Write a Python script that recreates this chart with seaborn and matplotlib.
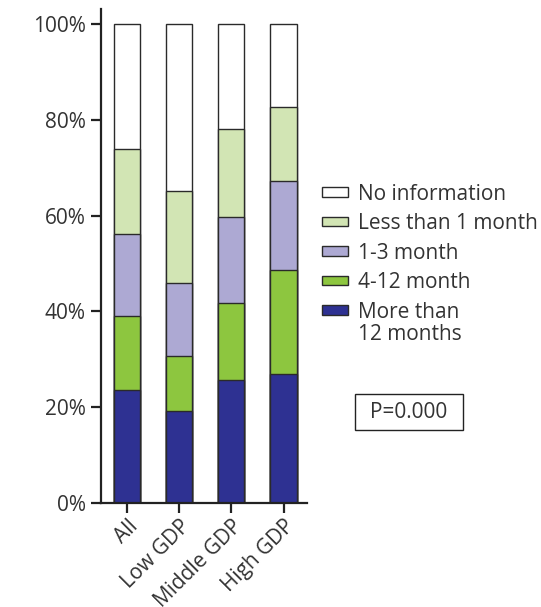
import matplotlib
matplotlib.use("Agg")
import matplotlib.pyplot as plt
import seaborn as sns
import pandas as pd
import numpy as np
from matplotlib.patches import Patch, Rectangle

# Share of patients by duration category, per country group (percent)
groups = ["All", "Low GDP", "Middle GDP", "High GDP"]
more_than_12 = [23.6, 19.2, 25.6, 27.0]
m4_12 = [15.5, 11.5, 16.1, 21.6]
m1_3 = [17.1, 15.3, 18.1, 18.6]
less_than_1 = [17.7, 19.1, 18.3, 15.5]
no_info = [26.1, 34.9, 21.9, 17.3]

series_labels = ["More than", "4-12 month", "1-3 month",
                 "Less than 1 month", "No information"]
series_values = [more_than_12, m4_12, m1_3, less_than_1, no_info]
series_colors = ["#2E3192", "#8DC63F", "#ADA9D3", "#D2E5B4", "#FFFFFF"]
label_tail = "12 months"

sns.set_style("ticks")
plt.rcParams["font.family"] = ["Open Sans", "DejaVu Sans"]
text_color = "#333333"
fs = 15

df = pd.DataFrame({"group": groups})
cum = np.zeros(len(groups))
cum_cols = []
for lab, vals in zip(series_labels, series_values):
    cum = cum + np.array(vals)
    col = "cum_" + lab
    df[col] = cum
    cum_cols.append(col)

W, H = 541, 607
fig = plt.figure(figsize=(W / 100, H / 100), dpi=100)
ax = fig.add_axes([101 / W, 1 - 503 / H, 206 / W, (503 - 9.3) / H])

# Stacked bars: draw cumulative totals from the top layer down
for col, color in reversed(list(zip(cum_cols, series_colors))):
    sns.barplot(data=df, x="group", y=col, color=color, saturation=1,
                width=0.5, edgecolor="#2a2a2a", linewidth=1.0, ax=ax,
                errorbar=None)

ax.set_xlim(-0.5, 3.45)
ax.set_ylim(0, 103.1)
ax.set_yticks([0, 20, 40, 60, 80, 100])
ax.set_yticklabels([f"{v}%" for v in [0, 20, 40, 60, 80, 100]])
ax.set_xlabel("")
ax.set_ylabel("")
sns.despine(ax=ax)
for s in ["left", "bottom"]:
    ax.spines[s].set_linewidth(1.6)
    ax.spines[s].set_color("#222222")
ax.tick_params(axis="both", length=7, width=1.6, color="#222222",
               labelsize=fs, labelcolor=text_color)
ax.tick_params(axis="y", pad=4)
ax.tick_params(axis="x", pad=2)
for lbl in ax.get_xticklabels():
    lbl.set_rotation(45)
    lbl.set_ha("right")
    lbl.set_va("top")
    lbl.set_rotation_mode("anchor")

handles = [Patch(facecolor=c, edgecolor="#2a2a2a", linewidth=1.0)
           for c in series_colors]
leg = fig.legend(handles[::-1], series_labels[::-1], loc="upper left",
                 bbox_to_anchor=(322 / W, 1 - 183.5 / H), frameon=False,
                 fontsize=fs, handlelength=1.25, handleheight=0.33,
                 handletextpad=0.48, labelspacing=0.41, borderaxespad=0,
                 borderpad=0)
for t in leg.get_texts():
    t.set_color(text_color)

# Second line of the last legend label, placed under its first line
fig.canvas.draw()
renderer = fig.canvas.get_renderer()
last = leg.get_texts()[-1]
bb = last.get_window_extent(renderer)
line_h = 22.5
fig.text(bb.x0 / W, (bb.y0 - line_h) / H,
         label_tail, fontsize=fs, color=text_color, ha="left", va="bottom")

# Boxed p-value
fig.patches.append(Rectangle((355 / W, 1 - 430 / H), 108 / W, 36 / H,
                             transform=fig.transFigure, facecolor="white",
                             edgecolor="#222222", linewidth=1.0))
fig.text(409 / W, 1 - 412.5 / H, "P=0.000", fontsize=fs, color=text_color,
         ha="center", va="center")

fig.savefig("out.png", dpi=100)
